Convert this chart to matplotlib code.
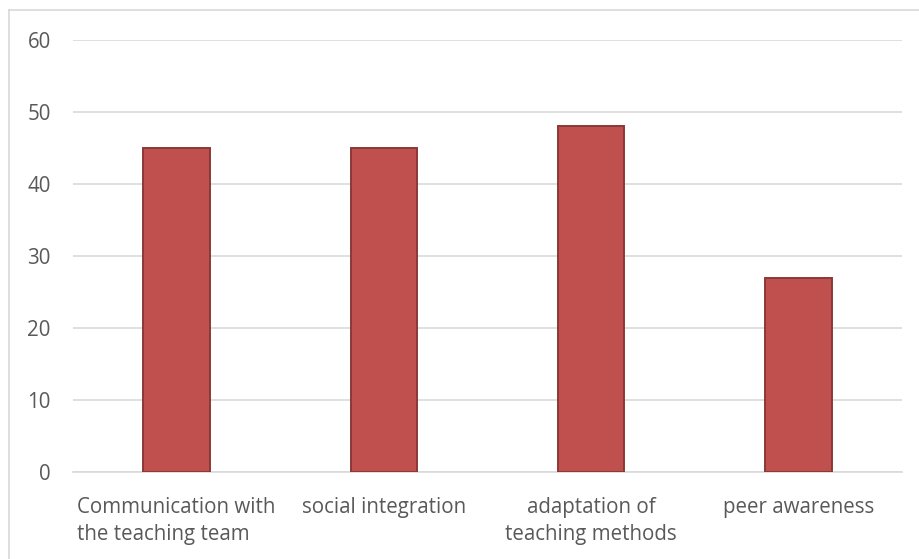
import matplotlib.pyplot as plt
from matplotlib.lines import Line2D

categories = ["Communication with\nthe teaching team", "social integration",
              "adaptation of\nteaching methods", "peer awareness"]
values = [45, 45, 48, 27]
yticks = [0, 10, 20, 30, 40, 50, 60]

plt.rcParams['font.family'] = ['Open Sans', 'DejaVu Sans']
text_col = '#595959'
grid_col = '#D9D9D9'

fig = plt.figure(figsize=(9.19, 5.59), dpi=100)
ax = fig.add_axes([73 / 919, 1 - 472 / 559, 829 / 919, 432 / 559])

x = range(len(categories))
ax.bar(x, values, width=0.32, color='#C0504D', edgecolor='#8C3836', linewidth=1.4, zorder=3)

ax.set_xlim(-0.5, len(categories) - 0.5)
ax.set_ylim(0, 60)
ax.set_yticks(yticks)
ax.set_yticklabels([str(v) for v in yticks])
ax.set_xticks(list(x))
ax.set_xticklabels(categories, linespacing=1.4)
ax.yaxis.grid(True, color=grid_col, linewidth=1.2, zorder=0)
ax.tick_params(axis='both', length=0, labelsize=14.8, colors=text_col)
ax.tick_params(axis='y', pad=16)
ax.tick_params(axis='x', pad=18)
for lbl in ax.get_xticklabels():
    lbl.set_verticalalignment('top')
ax.get_xticklabels()[0].set_multialignment('left')

for side in ['left', 'right', 'top']:
    ax.spines[side].set_visible(False)
ax.spines['bottom'].set_color(grid_col)
ax.spines['bottom'].set_linewidth(1.2)

# chart frame (only left and top edges visible in the crop)
fig.add_artist(Line2D([9 / 919, 9 / 919], [0, 1 - 10 / 559], color=grid_col, linewidth=1.2))
fig.add_artist(Line2D([9 / 919, 1], [1 - 10 / 559, 1 - 10 / 559], color=grid_col, linewidth=1.2))

fig.savefig('out.png', dpi=100)
